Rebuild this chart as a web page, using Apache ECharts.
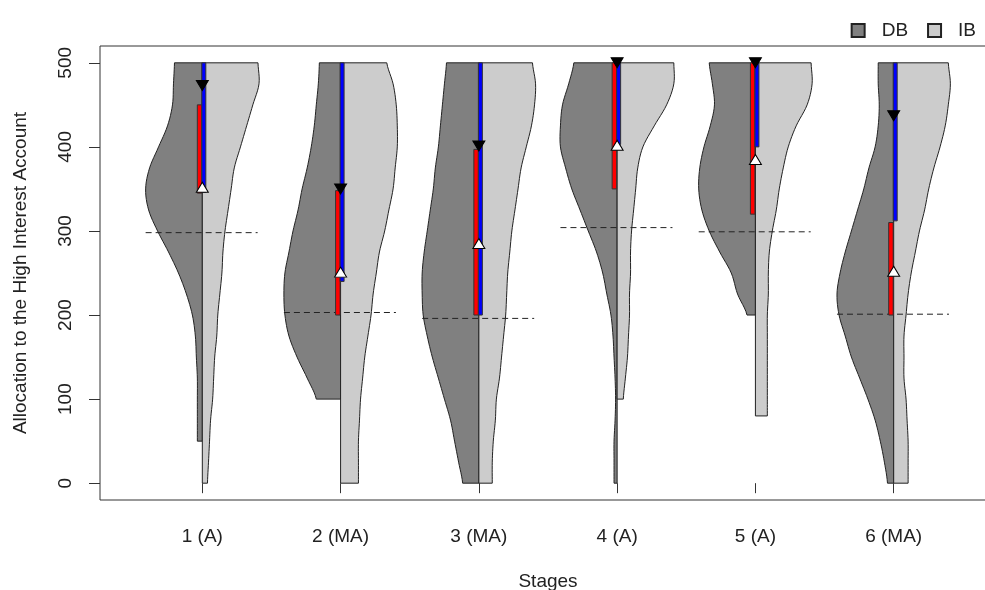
<!DOCTYPE html>
<html lang="en">
<head>
    <meta charset="UTF-8">
    <title>Allocation to the High Interest Account</title>
    <script src="https://cdn.jsdelivr.net/npm/echarts@6/dist/echarts.min.js"></script>
    <style>
        html, body, #main {
            width: 100%;
            height: 100%;
            padding: 0;
            margin: 0;
            background: #fff;
        }
    </style>
</head>
<body>
<div id="main"></div>
<script>
    // stages on the x axis, y ticks
    var stages = ['1 (A)', '2 (MA)', '3 (MA)', '4 (A)', '5 (A)', '6 (MA)'];
    var yTicks = [0, 100, 200, 300, 400, 500];

    // density profile levels (allocation values)
    var levels = [0, 25, 50, 75, 100, 125, 150, 175, 200, 225, 250, 275, 300, 325, 350, 375, 400, 425, 450, 475, 500];

    // lowest observed value per stage
    var dbMin = [50, 100, 0, 0, 200, 0];
    var ibMin = [0, 0, 0, 100, 80, 0];

    // relative density (violin half width) at each level, null = no data
    var dbDensity = [
        [null, null, 5, 5, 5, 5, 6, 7, 10, 16, 24, 34, 45, 54, 57, 53, 44, 35, 30, 29, 28],
        [null, null, null, null, 24, 33, 43, 51, 55, 56, 55, 51, 47, 42, 38, 33, 29, 26, 24, 22, 21],
        [16, 20, 24, 28, 34, 40, 46, 51, 55, 56, 56, 54, 51, 48, 45, 43, 40, 38, 36, 34, 32],
        [3, 3, 3, 2, 1.5, 2, 3, 4, 6, 10, 14, 20, 28, 36, 44, 50, 55, 55, 53, 47, 42],
        [null, null, null, null, null, null, null, null, 8, 17, 23, 34, 44, 51, 54, 53, 49, 43, 39, 41, 44],
        [6, 9, 13, 18, 25, 33, 41, 47, 53, 55, 52, 47, 41, 35, 29, 24, 18, 15, 14, 15, 15]
    ];
    var ibDensity = [
        [5, 6, 7, 8, 10, 11, 12, 14, 15, 17, 19, 20, 22, 25, 28, 31, 37, 43, 49, 55, 54],
        [17, 17, 17, 18, 19, 21, 23, 26, 29, 31, 34, 37, 42, 46, 50, 52, 54, 54, 53, 50, 44],
        [13, 13, 14, 16, 17, 20, 22, 24, 26, 27, 28, 30, 32, 35, 38, 41, 46, 51, 54, 55, 52],
        [null, null, null, null, 6, 8, 10, 11, 12, 12, 13, 13, 14, 16, 18, 20, 25, 36, 48, 55, 55],
        [null, null, null, 12, 12, 12, 12, 12, 12, 13, 13, 14, 17, 21, 24, 28, 33, 41, 52, 57, 56],
        [14, 14, 14, 13, 12, 10, 10, 10, 12, 14, 17, 21, 25, 30, 34, 39, 45, 50, 53, 55, 53]
    ];

    // interval bars
    var dbBarLow = [345, 200, 200, 350, 320, 200];
    var dbBarHigh = [450, 348, 397, 500, 500, 310];
    var ibBarLow = [346, 240, 200, 403, 400, 312];
    var ibBarHigh = [500, 500, 500, 500, 500, 500];

    // triangle markers
    var dbMarker = [473, 350, 401, 500, 500, 437];
    var ibMarker = [352, 251, 285, 402, 385, 252];

    // dashed reference level per stage
    var refLine = [298, 203, 196, 304, 299, 201];

    var HALF = 0.41;

    function profilePoints(dens, mn) {
        var pts = [];
        for (var i = 0; i < levels.length; i++) {
            if (dens[i] == null) continue;
            if (levels[i] < mn) {
                var nx = dens[i + 1];
                var t = (mn - levels[i]) / (levels[i + 1] - levels[i]);
                pts.push([mn, dens[i] + (nx - dens[i]) * t]);
            } else {
                pts.push([levels[i], dens[i]]);
            }
        }
        return pts;
    }

    // catmull-rom through the read points, for a smooth outline
    function smoothPoints(pts) {
        var out = [];
        var n = pts.length;
        for (var i = 0; i < n - 1; i++) {
            var p0 = pts[Math.max(i - 1, 0)], p1 = pts[i], p2 = pts[i + 1], p3 = pts[Math.min(i + 2, n - 1)];
            for (var k = 0; k < 6; k++) {
                var t = k / 6, t2 = t * t, t3 = t2 * t;
                var v = p1[0] + (p2[0] - p1[0]) * t;
                var w = 0.5 * ((2 * p1[1]) + (-p0[1] + p2[1]) * t +
                    (2 * p0[1] - 5 * p1[1] + 4 * p2[1] - p3[1]) * t2 +
                    (-p0[1] + 3 * p1[1] - 3 * p2[1] + p3[1]) * t3);
                out.push([v, Math.max(w, 0)]);
            }
        }
        out.push(pts[n - 1]);
        return out;
    }

    function violinRender(densSet, minSet, side, fill) {
        return function (params, api) {
            var i = params.dataIndex;
            var c = api.value(0);
            var dens = densSet[i];
            var maxD = Math.max.apply(null, dens.filter(function (d) { return d != null; }));
            var pts = smoothPoints(profilePoints(dens, minSet[i]));
            var poly = [api.coord([c, pts[0][0]])];
            pts.forEach(function (p) {
                poly.push(api.coord([c + side * p[1] / maxD * HALF, p[0]]));
            });
            poly.push(api.coord([c, pts[pts.length - 1][0]]));
            return {
                type: 'polygon',
                shape: {points: poly},
                style: {fill: fill, stroke: '#222', lineWidth: 1}
            };
        };
    }

    var xData = stages.map(function (s, i) { return [i + 1]; });

    var myChart = echarts.init(document.getElementById('main'));
    myChart.setOption({
        backgroundColor: '#fff',
        animation: false,
        textStyle: {fontFamily: 'Liberation Sans, Arial, sans-serif'},
        legend: {
            data: ['DB', 'IB'],
            right: 4,
            top: 16,
            icon: 'rect',
            itemWidth: 13,
            itemHeight: 13,
            itemGap: 19,
            textStyle: {fontSize: 19, color: '#222', padding: [0, 0, 0, 12]}
        },
        grid: {
            left: 100, top: 46, width: 896, height: 454,
            outerBoundsMode: 'none',
            show: true, borderColor: '#333', borderWidth: 1, backgroundColor: 'transparent'
        },
        xAxis: {
            type: 'value',
            min: 0.26, max: 6.74,
            axisLine: {show: false},
            splitLine: {show: false},
            axisTick: {customValues: [1, 2, 3, 4, 5, 6], length: 10, lineStyle: {color: '#333'}},
            axisLabel: {
                customValues: [1, 2, 3, 4, 5, 6],
                formatter: function (v) { return stages[Math.round(v) - 1]; },
                fontSize: 19, color: '#222', margin: 27
            },
            name: 'Stages',
            nameLocation: 'middle',
            nameGap: 72,
            nameTextStyle: {fontSize: 19, color: '#222'}
        },
        yAxis: {
            type: 'value',
            min: -20, max: 520,
            axisLine: {show: false},
            splitLine: {show: false},
            axisTick: {customValues: yTicks, length: 11, lineStyle: {color: '#333'}},
            axisLabel: {
                customValues: yTicks,
                rotate: 90,
                fontSize: 19, color: '#222', margin: 25
            },
            name: 'Allocation to the High Interest Account',
            nameLocation: 'middle',
            nameGap: 70,
            nameTextStyle: {fontSize: 19, color: '#222'}
        },
        series: [
            {
                name: 'DB', type: 'custom', z: 1,
                itemStyle: {color: '#808080', borderColor: '#222', borderWidth: 1},
                renderItem: violinRender(dbDensity, dbMin, -1, '#808080'),
                data: xData
            },
            {
                name: 'IB', type: 'custom', z: 1,
                itemStyle: {color: '#cccccc', borderColor: '#222', borderWidth: 1},
                renderItem: violinRender(ibDensity, ibMin, 1, '#cccccc'),
                data: xData
            },
            {
                name: 'reference', type: 'custom', z: 2, silent: true,
                renderItem: function (params, api) {
                    var c = api.value(0), v = api.value(1);
                    var a = api.coord([c - HALF, v]), b = api.coord([c + HALF - 0.01, v]);
                    return {
                        type: 'line',
                        shape: {x1: a[0], y1: a[1], x2: b[0], y2: b[1]},
                        style: {stroke: '#222', lineWidth: 1, lineDash: [6, 4]}
                    };
                },
                data: refLine.map(function (v, i) { return [i + 1, v]; })
            },
            {
                name: 'DB range', type: 'custom', z: 3, silent: true,
                renderItem: function (params, api) {
                    var top = api.coord([api.value(0), api.value(2)]);
                    var bot = api.coord([api.value(0), api.value(1)]);
                    return {
                        type: 'rect',
                        shape: {x: top[0] - 5, y: top[1], width: 4.5, height: bot[1] - top[1]},
                        style: {fill: '#ff0000', stroke: '#333', lineWidth: 1}
                    };
                },
                data: dbBarLow.map(function (v, i) { return [i + 1, v, dbBarHigh[i]]; })
            },
            {
                name: 'IB range', type: 'custom', z: 3, silent: true,
                renderItem: function (params, api) {
                    var top = api.coord([api.value(0), api.value(2)]);
                    var bot = api.coord([api.value(0), api.value(1)]);
                    return {
                        type: 'rect',
                        shape: {x: top[0] - 0.5, y: top[1], width: 4, height: bot[1] - top[1]},
                        style: {fill: '#0000ff', stroke: '#333', lineWidth: 1}
                    };
                },
                data: ibBarLow.map(function (v, i) { return [i + 1, v, ibBarHigh[i]]; })
            },
            {
                name: 'DB marker', type: 'scatter', z: 4, silent: true,
                symbol: 'triangle', symbolRotate: 180, symbolSize: [12, 10],
                itemStyle: {color: '#000', borderColor: '#000', borderWidth: 1, opacity: 1},
                data: dbMarker.map(function (v, i) { return [i + 1, v]; })
            },
            {
                name: 'IB marker', type: 'scatter', z: 4, silent: true,
                symbol: 'triangle', symbolSize: [12, 10],
                itemStyle: {color: '#fff', borderColor: '#000', borderWidth: 1, opacity: 1},
                data: ibMarker.map(function (v, i) { return [i + 1, v]; })
            }
        ]
    });
</script>
</body>
</html>
